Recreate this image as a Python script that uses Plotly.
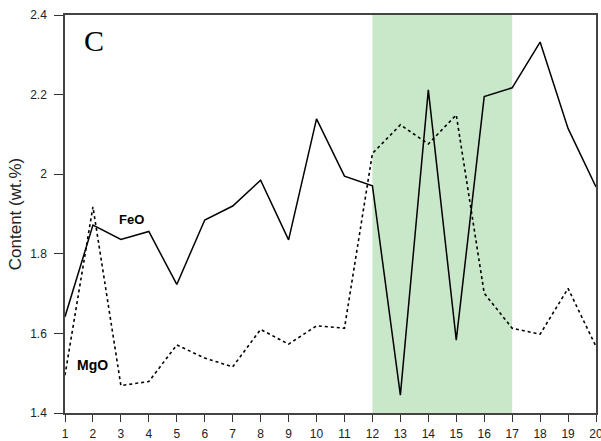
import plotly.graph_objects as go

samples = list(range(1, 21))
feo = [1.642, 1.872, 1.836, 1.856, 1.723, 1.885, 1.920, 1.985, 1.835, 2.139,
       1.995, 1.971, 1.445, 2.212, 1.583, 2.195, 2.217, 2.332, 2.115, 1.968]
mgo = [1.495, 1.918, 1.469, 1.479, 1.571, 1.538, 1.516, 1.610, 1.573, 1.619,
       1.613, 2.052, 2.124, 2.076, 2.149, 1.701, 1.613, 1.598, 1.713, 1.567]
band = [12, 17]
y_ticks = [1.4, 1.6, 1.8, 2.0, 2.2, 2.4]
y_tick_text = ["1.4", "1.6", "1.8", "2", "2.2", "2.4"]

fig = go.Figure()
fig.add_shape(type="rect", xref="x", yref="paper", x0=band[0], x1=band[1], y0=0, y1=1,
              fillcolor="#c9e7c9", line=dict(width=0), layer="below")
fig.add_trace(go.Scatter(x=samples, y=mgo, mode="lines", name="MgO",
                         line=dict(color="black", width=1.6, dash="dot")))
fig.add_trace(go.Scatter(x=samples, y=feo, mode="lines", name="FeO",
                         line=dict(color="black", width=1.5)))

fig.add_annotation(text="C", xref="x", yref="y", x=1.62, y=2.335, xanchor="left", yanchor="middle",
                   showarrow=False, font=dict(family="Liberation Serif, serif", size=30, color="black"))
fig.add_annotation(text="<b>FeO</b>", xref="x", yref="y", x=2.86, y=1.887, xanchor="left", yanchor="middle",
                   showarrow=False, font=dict(family="Liberation Sans, Arial", size=13, color="black"))
fig.add_annotation(text="<b>MgO</b>", xref="x", yref="y", x=1.36, y=1.521, xanchor="left", yanchor="middle",
                   showarrow=False, font=dict(family="Liberation Sans, Arial", size=14, color="black"))

fig.update_layout(
    width=601, height=441,
    margin=dict(l=65, r=5, t=15, b=28),
    paper_bgcolor="white", plot_bgcolor="white",
    showlegend=False,
    font=dict(family="Liberation Sans, Arial", size=12, color="#222"),
    xaxis=dict(range=[1, 20], tickmode="array", tickvals=samples, ticks="outside",
               ticklen=7, tickcolor="#333", showline=True, linecolor="#444", linewidth=1.5,
               mirror=True, showgrid=False, zeroline=False, tickfont=dict(size=12),
               ticklabelstandoff=2, automargin=False, ticklabeloverflow="allow"),
    yaxis=dict(range=[1.4, 2.4], tickmode="array", tickvals=y_ticks, ticktext=y_tick_text,
               ticks="outside", ticklen=9, tickcolor="#333", showline=True, linecolor="#444",
               linewidth=1.5, mirror=True, showgrid=False, zeroline=False,
               ticklabelstandoff=5, tickfont=dict(size=12), automargin=False,
               title=dict(text="Content (wt.%)", font=dict(size=17, color="#222"), standoff=4)),
)

fig.write_html("out.html", config={"displayModeBar": False},
               post_script="document.body.style.margin='0';document.body.style.overflow='hidden';")
